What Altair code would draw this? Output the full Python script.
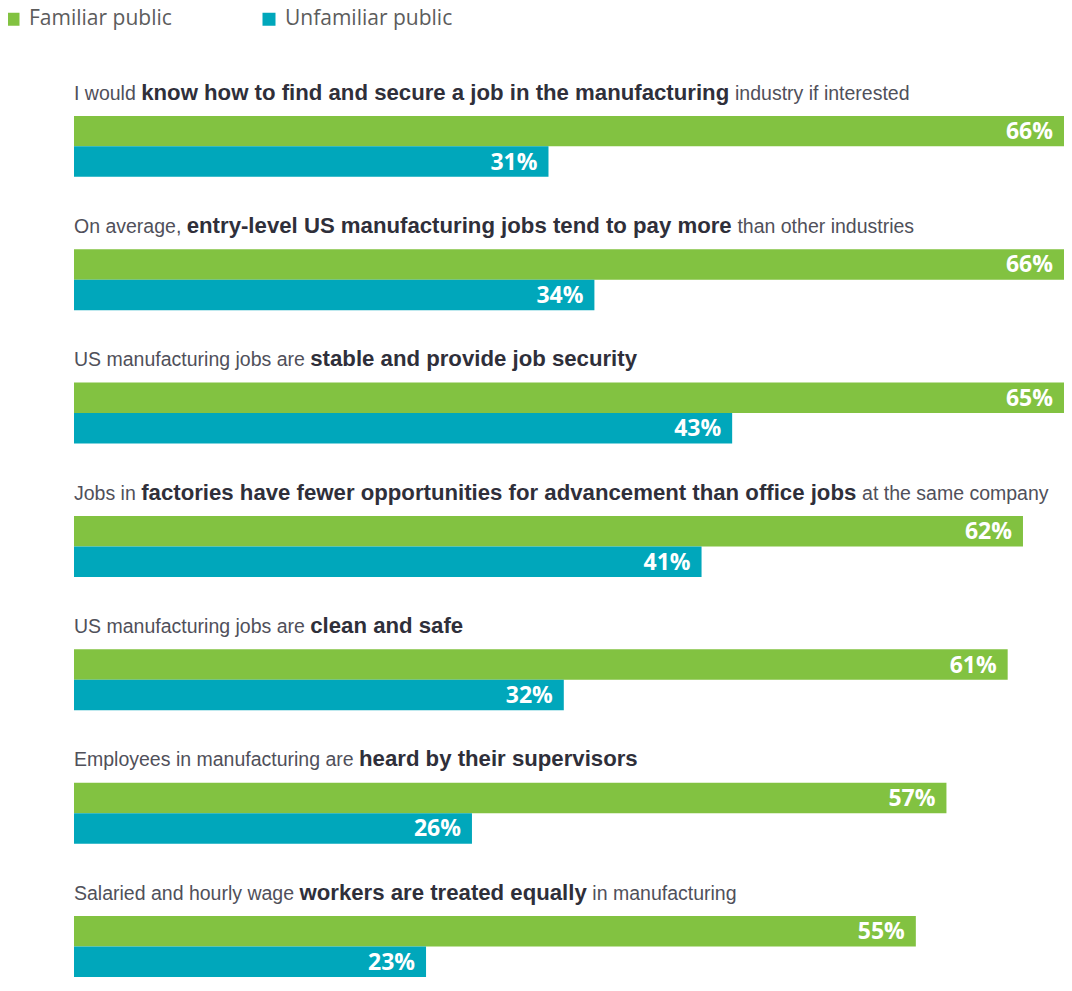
import altair as alt
import pandas as pd

# ---------------- data ----------------
series = ["Familiar public", "Unfamiliar public"]
colors = ["#82C241", "#00A7BB"]

pre_text = [
    "I would ",
    "On average, ",
    "US manufacturing jobs are ",
    "Jobs in ",
    "US manufacturing jobs are ",
    "Employees in manufacturing are ",
    "Salaried and hourly wage ",
]
bold_text = [
    "know how to find and secure a job in the manufacturing",
    "entry-level US manufacturing jobs tend to pay more",
    "stable and provide job security",
    "factories have fewer opportunities for advancement than office jobs",
    "clean and safe",
    "heard by their supervisors",
    "workers are treated equally",
]
post_text = [
    " industry if interested",
    " than other industries",
    "",
    " at the same company",
    "",
    "",
    " in manufacturing",
]
familiar = [66, 66, 65, 62, 61, 57, 55]
unfamiliar = [31, 34, 43, 41, 32, 26, 23]

# ---------------- layout / style ----------------
PLOT_W = 990
PLOT_H = 969
X_MAX = 64.68
REG_SIZE = 19.5
BOLD_SIZE = 22.2
FONT = "Liberation Sans"

# Liberation Sans (Arial-compatible) advance widths, per 1000 em
lower = "abcdefghijklmnopqrstuvwxyz"
upper = lower.upper()
reg_lower = [556, 556, 500, 556, 556, 278, 556, 556, 222, 222, 500, 222, 833,
             556, 556, 556, 556, 333, 500, 278, 556, 500, 722, 500, 500, 500]
reg_upper = [667, 667, 722, 722, 667, 611, 778, 722, 278, 500, 667, 556, 833,
             722, 778, 667, 778, 722, 667, 611, 722, 667, 944, 667, 667, 611]
bold_lower = [556, 611, 556, 611, 556, 333, 611, 611, 278, 278, 556, 278, 889,
              611, 611, 611, 611, 389, 556, 333, 611, 556, 778, 556, 556, 500]
bold_upper = [722, 722, 722, 722, 667, 611, 778, 722, 278, 556, 722, 611, 833,
              722, 778, 667, 778, 722, 667, 611, 722, 667, 944, 667, 667, 611]
punct = {" ": 278, ",": 278, "-": 333, ".": 278}
REG = dict(zip(lower, reg_lower)) | dict(zip(upper, reg_upper)) | punct
BOLD = dict(zip(lower, bold_lower)) | dict(zip(upper, bold_upper)) | punct


def text_width(s, table, size):
    return sum(table.get(c, 556) for c in s) * size / 1000.0


full_q = [p + b + o for p, b, o in zip(pre_text, bold_text, post_text)]

# question text segments, x offsets computed from font metrics (pixels)
seg_rows = []
for q, p, b, o in zip(full_q, pre_text, bold_text, post_text):
    x = 0.0
    for seg, weight in ((p, "reg"), (b, "bold"), (o, "reg")):
        tbl, size = (REG, REG_SIZE) if weight == "reg" else (BOLD, BOLD_SIZE)
        if seg.strip():
            lead = len(seg) - len(seg.lstrip())
            seg_rows.append(dict(q=q, slot="_label", text=seg.strip(),
                                 x=x + text_width(seg[:lead], tbl, size),
                                 weight=weight))
        x += text_width(seg, tbl, size)
seg_df = pd.DataFrame(seg_rows)

bar_rows = []
for q, f, u in zip(full_q, familiar, unfamiliar):
    bar_rows.append(dict(q=q, series=series[0], value=f, label=f"{f}%"))
    bar_rows.append(dict(q=q, series=series[1], value=u, label=f"{u}%"))
bar_df = pd.DataFrame(bar_rows)

# ---------------- encodings ----------------
y_enc = alt.Y("q:N", sort=full_q, axis=None,
              scale=alt.Scale(paddingInner=0.3146, paddingOuter=0.2903, align=1))
offset_scale = alt.Scale(domain=["_label"] + series, paddingInner=0, paddingOuter=0)
x_bar = alt.X("value:Q", axis=None,
              scale=alt.Scale(domain=[0, X_MAX], nice=False, zero=True, clamp=True))
x_txt = alt.X("x:Q", axis=None,
              scale=alt.Scale(domain=[0, PLOT_W], nice=False, zero=True))

bars = alt.Chart(bar_df).mark_bar(clip=True).encode(
    y=y_enc,
    yOffset=alt.YOffset("series:N", scale=offset_scale),
    x=x_bar,
    color=alt.Color(
        "series:N",
        scale=alt.Scale(domain=series, range=colors),
        legend=alt.Legend(
            title=None, orient="none", legendX=-71.5, legendY=0.5,
            direction="horizontal", symbolType="square", symbolSize=169,
            symbolStrokeWidth=0, symbolOpacity=1, labelFont="Open Sans",
            labelFontSize=21, labelColor="#5c5c5c", labelOffset=5.5,
            columnPadding=86, labelLimit=400, padding=0,
        ),
    ),
)

values = alt.Chart(bar_df).mark_text(
    align="right", baseline="middle", dx=-11, dy=1, clip=True,
    font="Open Sans", fontWeight="bold", fontSize=23, color="white",
).encode(
    y=y_enc,
    yOffset=alt.YOffset("series:N", scale=offset_scale),
    x=x_bar,
    text="label:N",
)

q_reg = alt.Chart(seg_df).transform_filter(alt.datum.weight == "reg").mark_text(
    align="left", baseline="alphabetic", dy=-1, font=FONT,
    fontSize=REG_SIZE, color="#50505a",
).encode(
    y=y_enc,
    yOffset=alt.YOffset("slot:N", scale=offset_scale),
    x=x_txt,
    text="text:N",
)

q_bold = alt.Chart(seg_df).transform_filter(alt.datum.weight == "bold").mark_text(
    align="left", baseline="alphabetic", dy=-1, font=FONT,
    fontWeight="bold", fontSize=BOLD_SIZE, color="#2f2f3a",
).encode(
    y=y_enc,
    yOffset=alt.YOffset("slot:N", scale=offset_scale),
    x=x_txt,
    text="text:N",
)

chart = (
    alt.layer(bars, values, q_reg, q_bold)
    .resolve_scale(x="independent")
    .properties(
        width=PLOT_W, height=PLOT_H,
        padding={"left": 66, "top": 0, "right": 0, "bottom": 0},
        autosize=alt.AutoSizeParams(type="none"),
        background="white",
    )
    .configure_view(stroke=None)
)

chart.save("out.html", embed_options={"renderer": "svg", "actions": False})
